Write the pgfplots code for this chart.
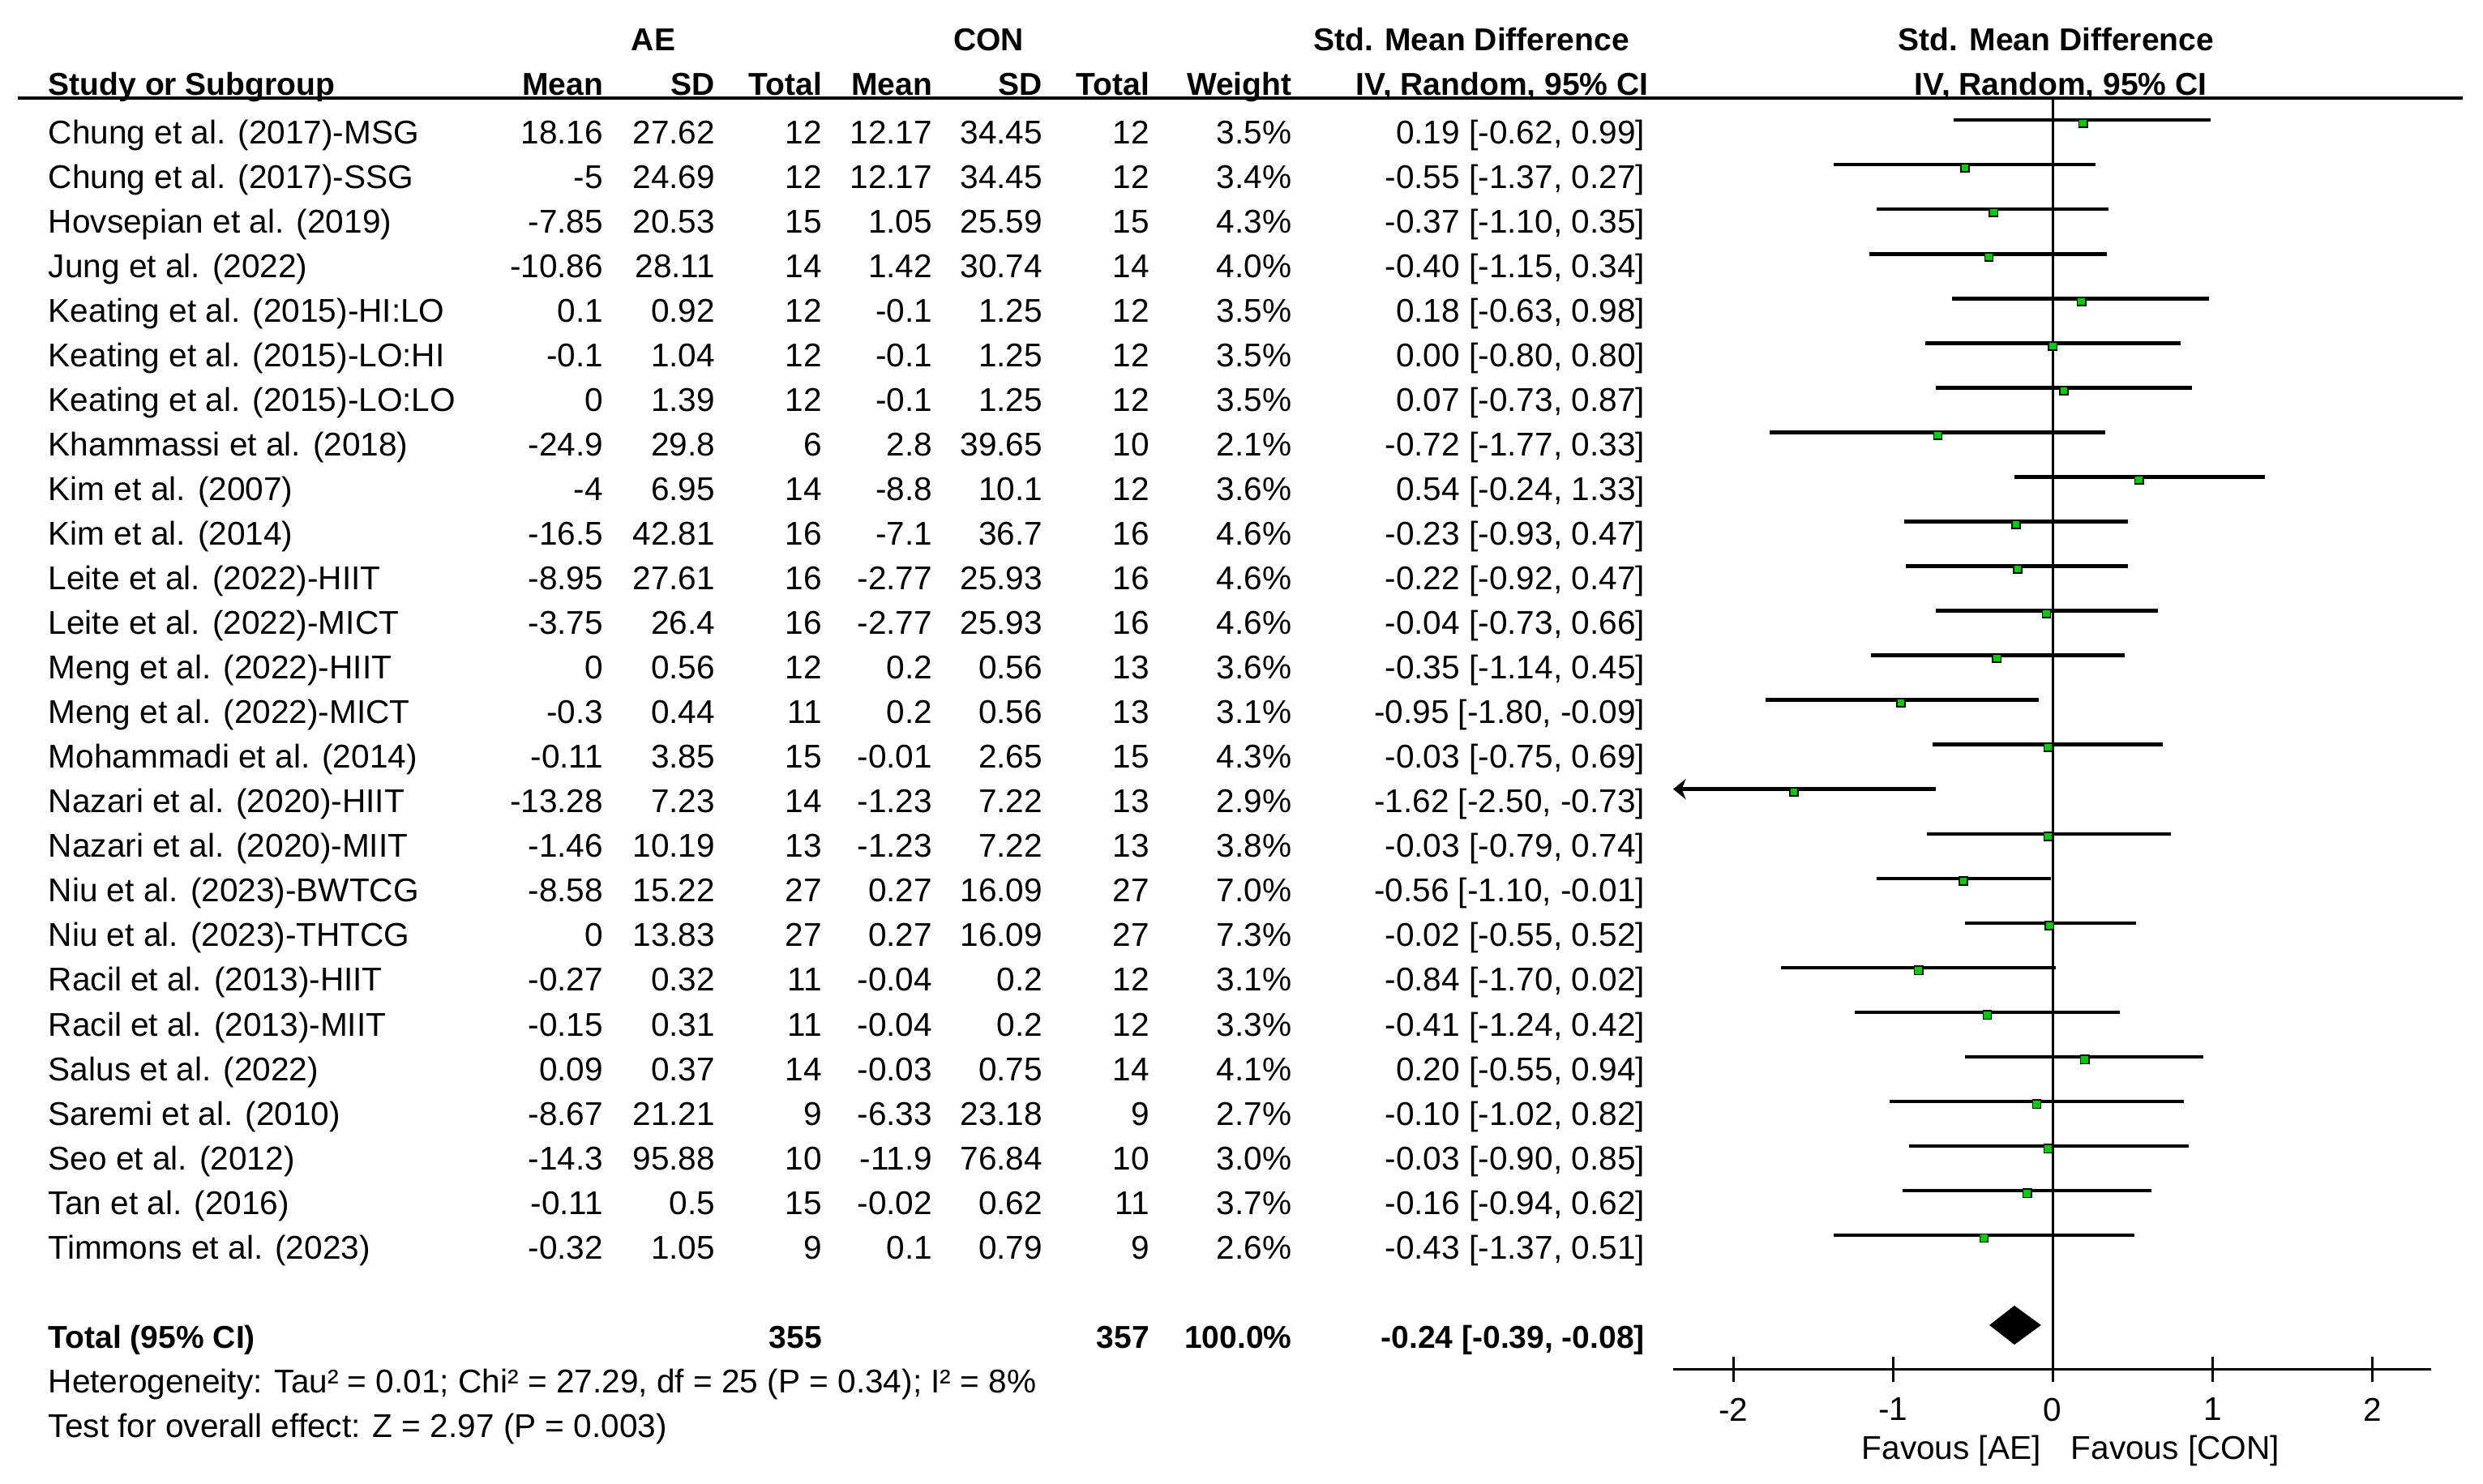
\documentclass[border=0pt]{standalone}
\usepackage{pgfplots}
\pgfplotsset{compat=1.18}
\usepackage{pgfplotstable}
\usepackage{fontspec}
\setmainfont{Liberation Sans}
\usetikzlibrary{arrows.meta}
\definecolor{mkgreen}{HTML}{00CC00}

% one row per study: AE (mean, sd, n), CON (mean, sd, n), weight, SMD with 95% CI
\pgfplotstableread[col sep=semicolon]{
row;name;aem;aesd;aen;cm;csd;cn;w;smd;lo;hi
1;Chung et al. (2017)-MSG;18.16;27.62;12;12.17;34.45;12;3.5;0.19;-0.62;0.99
2;Chung et al. (2017)-SSG;-5;24.69;12;12.17;34.45;12;3.4;-0.55;-1.37;0.27
3;Hovsepian et al. (2019);-7.85;20.53;15;1.05;25.59;15;4.3;-0.37;-1.10;0.35
4;Jung et al. (2022);-10.86;28.11;14;1.42;30.74;14;4.0;-0.40;-1.15;0.34
5;Keating et al. (2015)-HI:LO;0.1;0.92;12;-0.1;1.25;12;3.5;0.18;-0.63;0.98
6;Keating et al. (2015)-LO:HI;-0.1;1.04;12;-0.1;1.25;12;3.5;0.00;-0.80;0.80
7;Keating et al. (2015)-LO:LO;0;1.39;12;-0.1;1.25;12;3.5;0.07;-0.73;0.87
8;Khammassi et al. (2018);-24.9;29.8;6;2.8;39.65;10;2.1;-0.72;-1.77;0.33
9;Kim et al. (2007);-4;6.95;14;-8.8;10.1;12;3.6;0.54;-0.24;1.33
10;Kim et al. (2014);-16.5;42.81;16;-7.1;36.7;16;4.6;-0.23;-0.93;0.47
11;Leite et al. (2022)-HIIT;-8.95;27.61;16;-2.77;25.93;16;4.6;-0.22;-0.92;0.47
12;Leite et al. (2022)-MICT;-3.75;26.4;16;-2.77;25.93;16;4.6;-0.04;-0.73;0.66
13;Meng et al. (2022)-HIIT;0;0.56;12;0.2;0.56;13;3.6;-0.35;-1.14;0.45
14;Meng et al. (2022)-MICT;-0.3;0.44;11;0.2;0.56;13;3.1;-0.95;-1.80;-0.09
15;Mohammadi et al. (2014);-0.11;3.85;15;-0.01;2.65;15;4.3;-0.03;-0.75;0.69
16;Nazari et al. (2020)-HIIT;-13.28;7.23;14;-1.23;7.22;13;2.9;-1.62;-2.50;-0.73
17;Nazari et al. (2020)-MIIT;-1.46;10.19;13;-1.23;7.22;13;3.8;-0.03;-0.79;0.74
18;Niu et al. (2023)-BWTCG;-8.58;15.22;27;0.27;16.09;27;7.0;-0.56;-1.10;-0.01
19;Niu et al. (2023)-THTCG;0;13.83;27;0.27;16.09;27;7.3;-0.02;-0.55;0.52
20;Racil et al. (2013)-HIIT;-0.27;0.32;11;-0.04;0.2;12;3.1;-0.84;-1.70;0.02
21;Racil et al. (2013)-MIIT;-0.15;0.31;11;-0.04;0.2;12;3.3;-0.41;-1.24;0.42
22;Salus et al. (2022);0.09;0.37;14;-0.03;0.75;14;4.1;0.20;-0.55;0.94
23;Saremi et al. (2010);-8.67;21.21;9;-6.33;23.18;9;2.7;-0.10;-1.02;0.82
24;Seo et al. (2012);-14.3;95.88;10;-11.9;76.84;10;3.0;-0.03;-0.90;0.85
25;Tan et al. (2016);-0.11;0.5;15;-0.02;0.62;11;3.7;-0.16;-0.94;0.62
26;Timmons et al. (2023);-0.32;1.05;9;0.1;0.79;9;2.6;-0.43;-1.37;0.51
}\studies

\tikzset{
  cell/.style={anchor=base east, inner sep=0pt, yshift=-7.5pt},
  lcell/.style={anchor=base west, inner sep=0pt, yshift=-7.5pt},
  ccell/.style={anchor=base, inner sep=0pt, yshift=-7.5pt},
}
\newcommand{\cellof}[2]{\pgfplotstablegetelem{#1}{#2}\of\studies\pgfplotsretval}

\begin{document}
\begin{tikzpicture}[font=\fontsize{10.4}{12.5}\selectfont]
\begin{axis}[
  x=50.5pt, y=14.1pt,
  xmin=-2.376, xmax=2.366,
  ymin=-29.01, ymax=-0.504,
  clip=false,
  axis x line=bottom, axis y line=none,
  axis line style={-, line width=1pt, black},
  xtick={-2,-1,0,1,2}, xticklabels={-2,-1,0,1,2},
  ytick=\empty,
  tick align=center, major tick length=8pt,
  every tick/.style={black, line width=0.8pt},
  xticklabel style={font=\fontsize{10.4}{12.5}\selectfont, yshift=-1.5pt},
]
% page extent
\path (axis cs:-12.85,1.695) rectangle (axis cs:2.693,-31.57);

% header
\node[ccell, font=\bfseries] at (axis cs:-8.76,1.09) {AE};
\node[ccell, font=\bfseries] at (axis cs:-6.66,1.09) {CON};
\node[ccell, font=\bfseries] at (axis cs:-3.64,1.09) {Std. Mean Difference};
\node[ccell, font=\bfseries] at (axis cs:0.02,1.09) {Std. Mean Difference};
\node[lcell, font=\bfseries] at (axis cs:-12.55,0.10) {Study or Subgroup};
\node[cell, font=\bfseries] at (axis cs:-9.07,0.10) {Mean};
\node[cell, font=\bfseries] at (axis cs:-8.37,0.10) {SD};
\node[cell, font=\bfseries] at (axis cs:-7.70,0.10) {Total};
\node[cell, font=\bfseries] at (axis cs:-7.01,0.10) {Mean};
\node[cell, font=\bfseries] at (axis cs:-6.32,0.10) {SD};
\node[cell, font=\bfseries] at (axis cs:-5.65,0.10) {Total};
\node[cell, font=\bfseries] at (axis cs:-4.76,0.10) {Weight};
\node[ccell, font=\bfseries] at (axis cs:-3.446,0.10) {IV, Random, 95\% CI};
\node[ccell, font=\bfseries] at (axis cs:0.05,0.10) {IV, Random, 95\% CI};
\draw[line width=0.9pt] (axis cs:-12.74,-0.504) -- (axis cs:2.564,-0.504);

% study rows
\pgfplotsinvokeforeach{0,...,25}{
  \node[lcell] at (axis cs:-12.55,-#1-1) {\cellof{#1}{name}};
  \node[cell] at (axis cs:-9.07,-#1-1) {\cellof{#1}{aem}};
  \node[cell] at (axis cs:-8.37,-#1-1) {\cellof{#1}{aesd}};
  \node[cell] at (axis cs:-7.70,-#1-1) {\cellof{#1}{aen}};
  \node[cell] at (axis cs:-7.01,-#1-1) {\cellof{#1}{cm}};
  \node[cell] at (axis cs:-6.32,-#1-1) {\cellof{#1}{csd}};
  \node[cell] at (axis cs:-5.65,-#1-1) {\cellof{#1}{cn}};
  \node[cell] at (axis cs:-4.76,-#1-1) {\cellof{#1}{w}\%};
  \node[cell] at (axis cs:-2.55,-#1-1) {\cellof{#1}{smd} [\cellof{#1}{lo}, \cellof{#1}{hi}]};
}

% total row and statistics
\node[lcell, font=\bfseries] at (axis cs:-12.55,-28) {Total (95\% CI)};
\node[cell, font=\bfseries] at (axis cs:-7.70,-28) {355};
\node[cell, font=\bfseries] at (axis cs:-5.65,-28) {357};
\node[cell, font=\bfseries] at (axis cs:-4.76,-28) {100.0\%};
\node[cell, font=\bfseries] at (axis cs:-2.55,-28) {-0.24 [-0.39, -0.08]};
\node[lcell] at (axis cs:-12.55,-29) {Heterogeneity: Tau² = 0.01; Chi² = 27.29, df = 25 (P = 0.34); I² = 8\%};
\node[lcell] at (axis cs:-12.55,-30) {Test for overall effect: Z = 2.97 (P = 0.003)};
\node[cell] at (axis cs:-0.07,-30.5) {Favous [AE]};
\node[lcell] at (axis cs:0.11,-30.5) {Favous [CON]};

% line of no effect
\draw[line width=0.85pt] (axis cs:0,-0.504) -- (axis cs:0,-29.01);

% confidence intervals and point estimates
\addplot[only marks, mark=square*, mark size=1.3pt,
  mark options={fill=mkgreen, draw=none, yshift=-0.9pt},
  error bars/.cd, x dir=both, x explicit, error mark=none,
  error bar style={line width=1.1pt, black}]
  table[x=smd, y expr=-\thisrow{row},
    x error plus expr={\thisrow{hi}-\thisrow{smd}},
    x error minus expr={min(\thisrow{smd}-\thisrow{lo},\thisrow{smd}+2.2)}] {\studies};
% Nazari HIIT runs past the left edge
\addplot[line width=1.1pt, black, -{Stealth[length=4pt,width=6.5pt]}]
  coordinates {(-0.73,-16) (-2.376,-16)};

% pooled estimate
\addplot[fill=black, draw=black] coordinates
  {(-0.39,-28.02) (-0.24,-27.6) (-0.08,-28.02) (-0.24,-28.44)} -- cycle;
\end{axis}
\end{tikzpicture}
\end{document}
